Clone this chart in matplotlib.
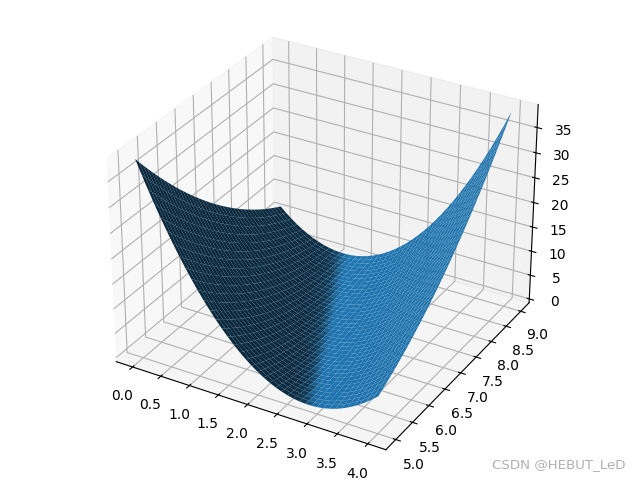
import numpy as np
import matplotlib as mpl
mpl.use('Agg')
import matplotlib.pyplot as plt

x_vals = [0.0, 0.1, 0.2, 0.3, 0.4, 0.5, 0.6, 0.7, 0.8, 0.9, 1.0, 1.1, 1.2, 1.3, 1.4, 1.5, 1.6, 1.7, 1.8, 1.9, 2.0,
          2.1, 2.2, 2.3, 2.4, 2.5, 2.6, 2.7, 2.8, 2.9, 3.0, 3.1, 3.2, 3.3, 3.4, 3.5, 3.6, 3.7, 3.8, 3.9, 4.0]
y_vals = [5.0, 5.1, 5.2, 5.3, 5.4, 5.5, 5.6, 5.7, 5.8, 5.9, 6.0, 6.1, 6.2, 6.3, 6.4, 6.5, 6.6, 6.7, 6.8, 6.9, 7.0,
          7.1, 7.2, 7.3, 7.4, 7.5, 7.6, 7.7, 7.8, 7.9, 8.0, 8.1, 8.2, 8.3, 8.4, 8.5, 8.6, 8.7, 8.8, 8.9, 9.0]
# height, one row per y value
z_vals = [
    [38.7,36.07,33.53,31.08,28.73,26.48,24.31,22.24,20.27,18.39,16.6,14.91,13.31,11.8,10.39,9.08,7.85,6.72,5.69,4.75,3.9,3.15,2.49,1.92,1.45,1.08,.79,.6,.51,.51,.6,.79,1.07,1.44,1.91,2.48,3.13,3.88,4.73,5.67,6.7],
    [37.52,34.93,32.43,30.02,27.71,25.5,23.37,21.34,19.41,17.57,15.82,14.17,12.61,11.14,9.77,8.5,7.31,6.22,5.23,4.33,3.52,2.81,2.19,1.66,1.23,.9,.65,.5,.45,.49,.62,.85,1.17,1.58,2.09,2.7,3.39,4.18,5.07,6.05,7.12],
    [36.36,33.81,31.35,28.98,26.71,24.54,22.45,20.46,18.57,16.77,15.06,13.45,11.93,10.5,9.17,7.94,6.79,5.74,4.79,3.93,3.16,2.49,1.91,1.42,1.03,.74,.53,.42,.41,.49,.66,.93,1.29,1.74,2.29,2.94,3.67,4.5,5.43,6.45,7.56],
    [35.22,32.71,30.29,27.96,25.73,23.6,21.55,19.6,17.75,15.99,14.32,12.75,11.27,9.88,8.59,7.4,6.29,5.28,4.37,3.55,2.82,2.19,1.65,1.2,.85,.6,.43,.36,.39,.51,.72,1.03,1.43,1.92,2.51,3.2,3.97,4.84,5.81,6.87,8.02],
    [34.1,31.63,29.25,26.96,24.77,22.68,20.67,18.76,16.95,15.23,13.6,12.07,10.63,9.28,8.03,6.88,5.81,4.84,3.97,3.19,2.5,1.91,1.41,1.0,.69,.48,.35,.32,.39,.55,.8,1.15,1.59,2.12,2.75,3.48,4.29,5.2,6.21,7.31,8.5],
    [32.99,30.56,28.22,25.97,23.82,21.77,19.8,17.93,16.16,14.48,12.89,11.4,10.0,8.69,7.48,6.37,5.34,4.41,3.58,2.84,2.19,1.64,1.18,.81,.54,.37,.28,.29,.4,.6,.89,1.28,1.76,2.33,3.0,3.77,4.62,5.57,6.62,7.76,8.99],
    [31.91,29.52,27.22,25.01,22.9,20.89,18.96,17.13,15.4,13.76,12.21,10.76,9.4,8.13,6.96,5.89,4.9,4.01,3.22,2.52,1.91,1.4,.98,.65,.42,.29,.24,.29,.44,.68,1.01,1.44,1.96,2.57,3.28,4.09,4.98,5.97,7.06,8.24,9.51],
    [30.85,28.5,26.24,24.07,22.0,20.03,18.14,16.35,14.66,13.06,11.55,10.14,8.82,7.59,6.46,5.43,4.48,3.63,2.88,2.22,1.65,1.18,.8,.51,.32,.23,.22,.31,.5,.78,1.15,1.62,2.18,2.83,3.58,4.43,5.36,6.39,7.52,8.74,10.05],
    [29.8,27.49,25.27,23.14,21.11,19.18,17.33,15.58,13.93,12.37,10.9,9.53,8.25,7.06,5.97,4.98,4.07,3.26,2.55,1.93,1.4,.97,.63,.38,.23,.18,.21,.34,.57,.89,1.3,1.81,2.41,3.1,3.89,4.78,5.75,6.82,7.99,9.25,10.6],
    [28.78,26.51,24.33,22.24,20.25,18.36,16.55,14.84,13.23,11.71,10.28,8.95,7.71,6.56,5.51,4.56,3.69,2.92,2.25,1.67,1.18,.79,.49,.28,.17,.16,.23,.4,.67,1.03,1.48,2.03,2.67,3.4,4.23,5.16,6.17,7.28,8.49,9.79,11.18],
    [27.78,25.55,23.41,21.36,19.41,17.56,15.79,14.12,12.55,11.07,9.68,8.39,7.19,6.08,5.07,4.16,3.33,2.6,1.97,1.43,.98,.63,.37,.2,.13,.16,.27,.48,.79,1.19,1.68,2.27,2.95,3.72,4.59,5.56,6.61,7.76,9.01,10.35,11.78],
    [26.79,24.6,22.5,20.49,18.58,16.77,15.04,13.41,11.88,10.44,9.09,7.84,6.68,5.61,4.64,3.77,2.98,2.29,1.7,1.2,.79,.48,.26,.13,.1,.17,.32,.57,.92,1.36,1.89,2.52,3.24,4.05,4.96,5.97,7.06,8.25,9.54,10.92,12.39],
    [25.82,23.67,21.61,19.64,17.77,16.0,14.31,12.72,11.23,9.83,8.52,7.31,6.19,5.16,4.23,3.4,2.65,2.0,1.45,.99,.62,.35,.17,.08,.09,.2,.39,.68,1.07,1.55,2.12,2.79,3.55,4.4,5.35,6.4,7.53,8.76,10.09,11.51,13.02],
    [24.88,22.77,20.75,18.82,16.99,15.26,13.61,12.06,10.61,9.25,7.98,6.81,5.73,4.74,3.85,3.06,2.35,1.74,1.23,.81,.48,.25,.11,.06,.11,.26,.49,.82,1.25,1.77,2.38,3.09,3.89,4.78,5.77,6.86,8.03,9.3,10.67,12.13,13.68],
    [23.95,21.88,19.9,18.01,16.22,14.53,12.92,11.41,10.0,8.68,7.45,6.32,5.28,4.33,3.48,2.73,2.06,1.49,1.02,.64,.35,.16,.06,.05,.14,.33,.6,.97,1.44,2.0,2.65,3.4,4.24,5.17,6.2,7.33,8.54,9.85,11.26,12.76,14.35],
    [23.04,21.01,19.07,17.22,15.47,13.82,12.25,10.78,9.41,8.13,6.94,5.85,4.85,3.94,3.13,2.42,1.79,1.26,.83,.49,.24,.09,.03,.06,.19,.42,.73,1.14,1.65,2.25,2.94,3.73,4.61,5.58,6.65,7.82,9.07,10.42,11.87,13.41,15.04],
    [22.16,20.17,18.27,16.46,14.75,13.14,11.61,10.18,8.85,7.61,6.46,5.41,4.45,3.58,2.81,2.14,1.55,1.06,.67,.37,.16,.05,.03,.1,.27,.54,.89,1.34,1.89,2.53,3.26,4.09,5.01,6.02,7.13,8.34,9.63,11.02,12.51,14.09,15.76],
    [21.29,19.34,17.48,15.71,14.04,12.47,10.98,9.59,8.3,7.1,5.99,4.98,4.06,3.23,2.5,1.87,1.32,.87,.52,.26,.09,.02,.04,.15,.36,.67,1.06,1.55,2.14,2.82,3.59,4.46,5.42,6.47,7.62,8.87,10.2,11.63,13.16,14.78,16.49],
    [20.44,18.53,16.71,14.98,13.35,11.82,10.37,9.02,7.77,6.61,5.54,4.57,3.69,2.9,2.21,1.62,1.11,.7,.39,.17,.04,.01,.07,.22,.47,.82,1.25,1.78,2.41,3.13,3.94,4.85,5.85,6.94,8.13,9.42,10.79,12.26,13.83,15.49,17.24],
    [19.61,17.74,15.96,14.27,12.68,11.19,9.78,8.47,7.26,6.14,5.11,4.18,3.34,2.59,1.94,1.39,.92,.55,.28,.1,.01,.02,.12,.31,.6,.99,1.46,2.03,2.7,3.46,4.31,5.26,6.3,7.43,8.66,9.99,11.4,12.91,14.52,16.22,18.01],
    [18.8,16.97,15.23,13.58,12.03,10.58,9.21,7.94,6.77,5.69,4.7,3.81,3.01,2.3,1.69,1.18,.75,.42,.19,.05,0.0,.05,.19,.42,.75,1.18,1.69,2.3,3.01,3.81,4.7,5.69,6.77,7.94,9.21,10.58,12.03,13.58,15.23,16.97,18.8],
    [18.01,16.22,14.52,12.91,11.4,9.99,8.66,7.43,6.3,5.26,4.31,3.46,2.7,2.03,1.46,.99,.6,.31,.12,.02,.01,.1,.28,.55,.92,1.39,1.94,2.59,3.34,4.18,5.11,6.14,7.26,8.47,9.78,11.19,12.68,14.27,15.96,17.74,19.61],
    [17.24,15.49,13.83,12.26,10.79,9.42,8.13,6.94,5.85,4.85,3.94,3.13,2.41,1.78,1.25,.82,.47,.22,.07,.01,.04,.17,.39,.7,1.11,1.62,2.21,2.9,3.69,4.57,5.54,6.61,7.77,9.02,10.37,11.82,13.35,14.98,16.71,18.53,20.44],
    [16.49,14.78,13.16,11.63,10.2,8.87,7.62,6.47,5.42,4.46,3.59,2.82,2.14,1.55,1.06,.67,.36,.15,.04,.02,.09,.26,.52,.87,1.32,1.87,2.5,3.23,4.06,4.98,5.99,7.1,8.3,9.59,10.98,12.47,14.04,15.71,17.48,19.34,21.29],
    [15.76,14.09,12.51,11.02,9.63,8.34,7.13,6.02,5.01,4.09,3.26,2.53,1.89,1.34,.89,.54,.27,.1,.03,.05,.16,.37,.67,1.06,1.55,2.14,2.81,3.58,4.45,5.41,6.46,7.61,8.85,10.18,11.61,13.14,14.75,16.46,18.27,20.17,22.16],
    [15.04,13.41,11.87,10.42,9.07,7.82,6.65,5.58,4.61,3.73,2.94,2.25,1.65,1.14,.73,.42,.19,.06,.03,.09,.24,.49,.83,1.26,1.79,2.42,3.13,3.94,4.85,5.85,6.94,8.13,9.41,10.78,12.25,13.82,15.47,17.22,19.07,21.01,23.04],
    [14.35,12.76,11.26,9.85,8.54,7.33,6.2,5.17,4.24,3.4,2.65,2.0,1.44,.97,.6,.33,.14,.05,.06,.16,.35,.64,1.02,1.49,2.06,2.73,3.48,4.33,5.28,6.32,7.45,8.68,10.0,11.41,12.92,14.53,16.22,18.01,19.9,21.88,23.95],
    [13.68,12.13,10.67,9.3,8.03,6.86,5.77,4.78,3.89,3.09,2.38,1.77,1.25,.82,.49,.26,.11,.06,.11,.25,.48,.81,1.23,1.74,2.35,3.06,3.85,4.74,5.73,6.81,7.98,9.25,10.61,12.06,13.61,15.26,16.99,18.82,20.75,22.77,24.88],
    [13.02,11.51,10.09,8.76,7.53,6.4,5.35,4.4,3.55,2.79,2.12,1.55,1.07,.68,.39,.2,.09,.08,.17,.35,.62,.99,1.45,2.0,2.65,3.4,4.23,5.16,6.19,7.31,8.52,9.83,11.23,12.72,14.31,16.0,17.77,19.64,21.61,23.67,25.82],
    [12.39,10.92,9.54,8.25,7.06,5.97,4.96,4.05,3.24,2.52,1.89,1.36,.92,.57,.32,.17,.1,.13,.26,.48,.79,1.2,1.7,2.29,2.98,3.77,4.64,5.61,6.68,7.84,9.09,10.44,11.88,13.41,15.04,16.77,18.58,20.49,22.5,24.6,26.79],
    [11.78,10.35,9.01,7.76,6.61,5.56,4.59,3.72,2.95,2.27,1.68,1.19,.79,.48,.27,.16,.13,.2,.37,.63,.98,1.43,1.97,2.6,3.33,4.16,5.07,6.08,7.19,8.39,9.68,11.07,12.55,14.12,15.79,17.56,19.41,21.36,23.41,25.55,27.78],
    [11.18,9.79,8.49,7.28,6.17,5.16,4.23,3.4,2.67,2.03,1.48,1.03,.67,.4,.23,.16,.17,.28,.49,.79,1.18,1.67,2.25,2.92,3.69,4.56,5.51,6.56,7.71,8.95,10.28,11.71,13.23,14.84,16.55,18.36,20.25,22.24,24.33,26.51,28.78],
    [10.6,9.25,7.99,6.82,5.75,4.78,3.89,3.1,2.41,1.81,1.3,.89,.57,.34,.21,.18,.23,.38,.63,.97,1.4,1.93,2.55,3.26,4.07,4.98,5.97,7.06,8.25,9.53,10.9,12.37,13.93,15.58,17.33,19.18,21.11,23.14,25.27,27.49,29.8],
    [10.05,8.74,7.52,6.39,5.36,4.43,3.58,2.83,2.18,1.62,1.15,.78,.5,.31,.22,.23,.32,.51,.8,1.18,1.65,2.22,2.88,3.63,4.48,5.43,6.46,7.59,8.82,10.14,11.55,13.06,14.66,16.35,18.14,20.03,22.0,24.07,26.24,28.5,30.85],
    [9.51,8.24,7.06,5.97,4.98,4.09,3.28,2.57,1.96,1.44,1.01,.68,.44,.29,.24,.29,.42,.65,.98,1.4,1.91,2.52,3.22,4.01,4.9,5.89,6.96,8.13,9.4,10.76,12.21,13.76,15.4,17.13,18.96,20.89,22.9,25.01,27.22,29.52,31.91],
    [8.99,7.76,6.62,5.57,4.62,3.77,3.0,2.33,1.76,1.28,.89,.6,.4,.29,.28,.37,.54,.81,1.18,1.64,2.19,2.84,3.58,4.41,5.34,6.37,7.48,8.69,10.0,11.4,12.89,14.48,16.16,17.93,19.8,21.77,23.82,25.97,28.22,30.56,32.99],
    [8.5,7.31,6.21,5.2,4.29,3.48,2.75,2.12,1.59,1.15,.8,.55,.39,.32,.35,.48,.69,1.0,1.41,1.91,2.5,3.19,3.97,4.84,5.81,6.88,8.03,9.28,10.63,12.07,13.6,15.23,16.95,18.76,20.67,22.68,24.77,26.96,29.25,31.63,34.1],
    [8.02,6.87,5.81,4.84,3.97,3.2,2.51,1.92,1.43,1.03,.72,.51,.39,.36,.43,.6,.85,1.2,1.65,2.19,2.82,3.55,4.37,5.28,6.29,7.4,8.59,9.88,11.27,12.75,14.32,15.99,17.75,19.6,21.55,23.6,25.73,27.96,30.29,32.71,35.22],
    [7.56,6.45,5.43,4.5,3.67,2.94,2.29,1.74,1.29,.93,.66,.49,.41,.42,.53,.74,1.03,1.42,1.91,2.49,3.16,3.93,4.79,5.74,6.79,7.94,9.17,10.5,11.93,13.45,15.06,16.77,18.57,20.46,22.45,24.54,26.71,28.98,31.35,33.81,36.36],
    [7.12,6.05,5.07,4.18,3.39,2.7,2.09,1.58,1.17,.85,.62,.49,.45,.5,.65,.9,1.23,1.66,2.19,2.81,3.52,4.33,5.23,6.22,7.31,8.5,9.77,11.14,12.61,14.17,15.82,17.57,19.41,21.34,23.37,25.5,27.71,30.02,32.43,34.93,37.52],
    [6.7,5.67,4.73,3.88,3.13,2.48,1.91,1.44,1.07,.79,.6,.51,.51,.6,.79,1.08,1.45,1.92,2.49,3.15,3.9,4.75,5.69,6.72,7.85,9.08,10.39,11.8,13.31,14.91,16.6,18.39,20.27,22.24,24.31,26.48,28.73,31.08,33.53,36.07,38.7],
]

X, Y = np.meshgrid(x_vals, y_vals)
Z = np.array(z_vals)

fig = plt.figure()
ax = fig.add_axes([0, 0, 1, 1], projection='3d')
ax.plot_surface(X, Y, Z, rstride=1, cstride=1)

fig.text(0.977, 0.033, 'CSDN @HEBUT_LeD', ha='right', va='center', color='#b0b0b0', fontsize=9.6)

plt.savefig('out.png', dpi=100)
